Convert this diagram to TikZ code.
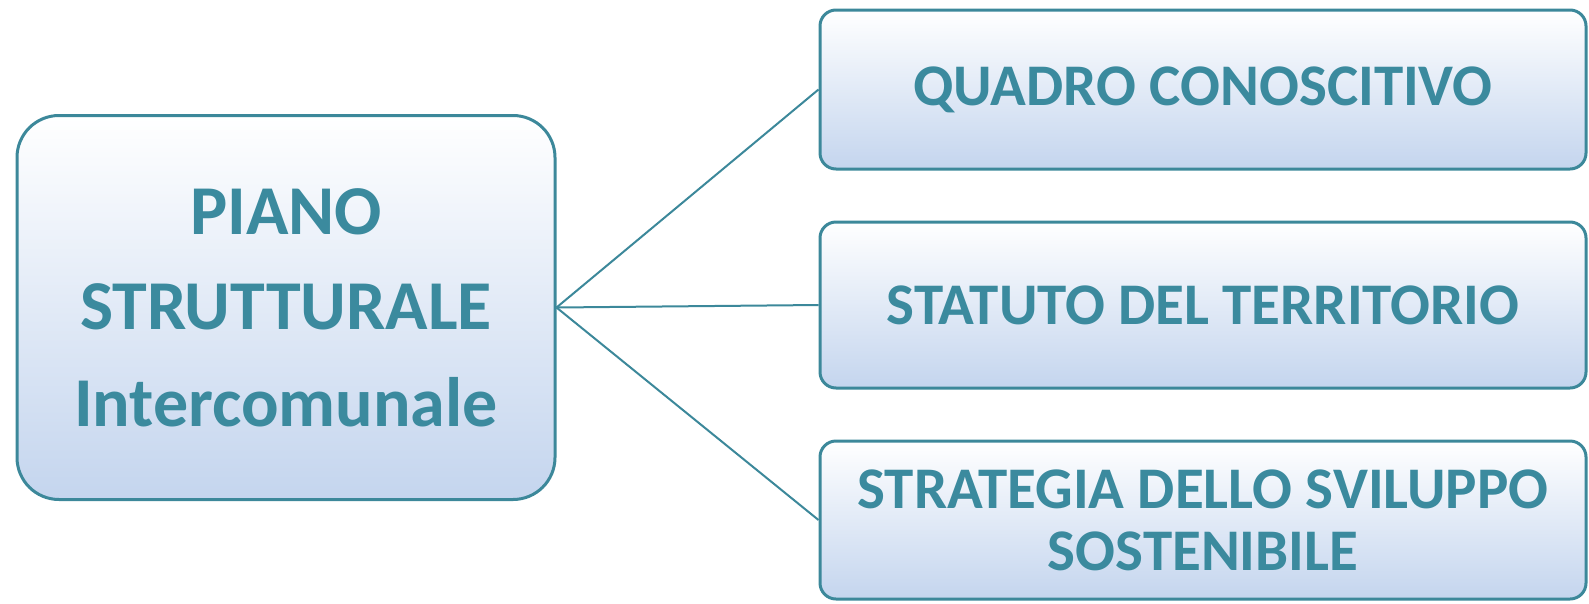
\documentclass[tikz,border=0pt]{standalone}
\usepackage{fontspec}
\setmainfont{Carlito}
\definecolor{teal1}{RGB}{59,138,158}
\definecolor{bord}{RGB}{60,136,154}
\definecolor{shadebot}{RGB}{196,213,238}
\begin{document}
\begin{tikzpicture}[x=1pt,y=-1pt,
  boxst/.style={draw=bord, line width=3pt, top color=white, bottom color=shadebot,
    text=teal1, font=\bfseries, align=center, inner sep=0pt},
  conn/.style={draw=bord, line width=2pt}]
\useasboundingbox (0,0) rectangle (1589,603);
\node[boxst, rounded corners=42pt, minimum width=538pt, minimum height=384pt,
  font=\bfseries\fontsize{70}{97}\selectfont] (main) at (286,307.5)
  {\raisebox{-2pt}{PIANO}\\STRUTTURALE\\Intercomunale};
\node[boxst, rounded corners=16pt, minimum width=766pt, minimum height=159pt,
  font=\bfseries\fontsize{59}{61}\selectfont] (b1) at (1203,89.5) {\raisebox{-4pt}{QUADRO CONOSCITIVO}};
\node[boxst, rounded corners=16pt, minimum width=766pt, minimum height=166pt,
  font=\bfseries\fontsize{59}{61}\selectfont] (b2) at (1203,305) {\raisebox{-2pt}{STATUTO DEL TERRITORIO}};
\node[boxst, rounded corners=16pt, minimum width=766pt, minimum height=158pt,
  font=\bfseries\fontsize{59}{62}\selectfont] (b3) at (1203,520) {STRATEGIA DELLO SVILUPPO\\SOSTENIBILE};
\draw[conn] (main.east) -- (b1.west);
\draw[conn] (main.east) -- (b2.west);
\draw[conn] (main.east) -- (b3.west);
\end{tikzpicture}
\end{document}
